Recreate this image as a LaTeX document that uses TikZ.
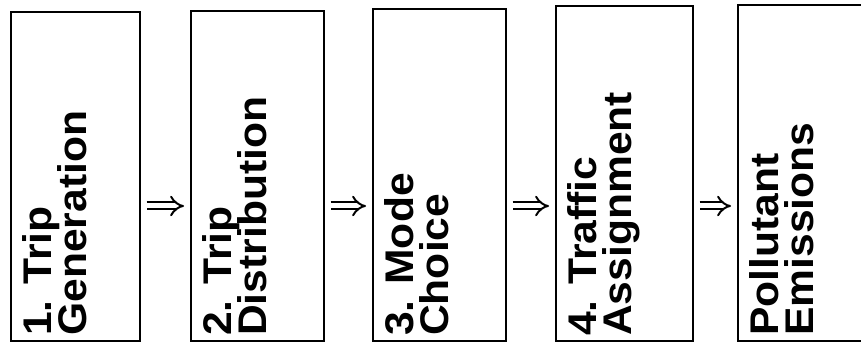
\documentclass[tikz,border=0pt]{standalone}
\usepackage{fontspec}
\setmainfont{Liberation Sans}
\newfontfamily\stepfont[FakeStretch=1.065]{Liberation Sans}
\newcommand\stepfontset{\stepfont\fontsize{40}{35}\selectfont\bfseries\lineskiplimit=-50pt\relax}
\usepackage{tikz}
\usetikzlibrary{calc,arrows.meta}

\begin{document}
\begin{tikzpicture}[
	x=1pt,y=1pt,
	stepbox/.style={draw,line width=1.6pt,inner sep=0,minimum height=#1,anchor=south west},
	steptext/.style={rotate=90,anchor=north west,inner sep=0,align=left,font=\stepfontset},
	implies/.style={double,double distance=5pt,line width=2pt,arrows={-Implies}}]
	\clip (0,0) rectangle (861,345);
	\useasboundingbox (0,0) rectangle (861,345);
	\coordinate (ay) at (0,139);
	\node[stepbox=329pt,minimum width=129pt] (b1) at (10,3) {};
	\node[stepbox=330pt,minimum width=133pt] (b2) at (190,3) {};
	\node[stepbox=332pt,minimum width=133pt] (b3) at (372,3) {};
	\node[stepbox=335pt,minimum width=137pt] (b4) at (555,3) {};
	\node[stepbox=336pt,minimum width=140pt] (b5) at (737,3) {};
	\node[steptext] (t1) at ($(b1.south west)+(12,6)$) {1. Trip\\Generation};
	\node[steptext] (t2) at ($(b2.south west)+(12,6)$) {2. Trip\\Distribution};
	\node[steptext] (t3) at ($(b3.south west)+(12,6)$) {3. Mode\\Choice};
	\node[steptext] (t4) at ($(b4.south west)+(12,6)$) {4. Traffic\\Assignment};
	\node[steptext] (t5) at ($(b5.south west)+(12,6)$) {Pollutant\\Emissions};
	\draw[implies] ($(b1.east |- ay)+(6,0)$) -- ($(b2.west |- ay)+(-6,0)$);
	\draw[implies] ($(b2.east |- ay)+(6,0)$) -- ($(b3.west |- ay)+(-6,0)$);
	\draw[implies] ($(b3.east |- ay)+(6,0)$) -- ($(b4.west |- ay)+(-6,0)$);
	\draw[implies] ($(b4.east |- ay)+(6,0)$) -- ($(b5.west |- ay)+(-6,0)$);
\end{tikzpicture}
\end{document}
